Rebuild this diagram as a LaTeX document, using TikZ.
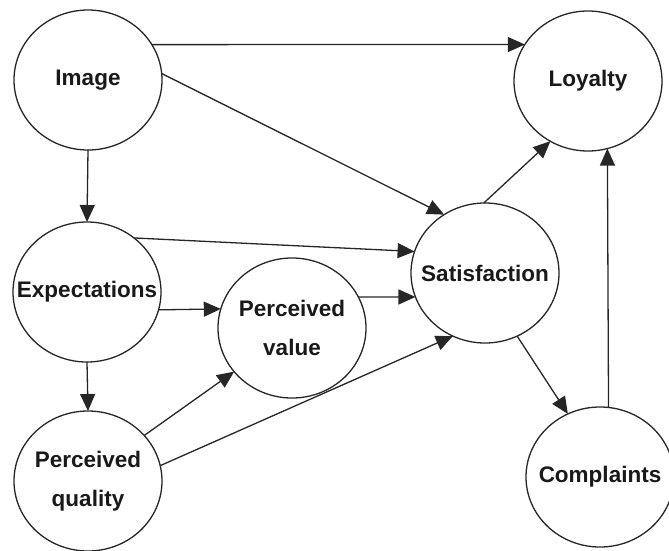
\documentclass[tikz,border=0pt]{standalone}
\usepackage{fontspec}
\setmainfont{Liberation Sans}
\usetikzlibrary{arrows.meta,shapes.geometric}
\begin{document}
\begin{tikzpicture}[x=1pt,y=-1pt,
  st/.style={ellipse,draw=black!85,line width=1.3pt,minimum width=148pt,minimum height=140pt,inner sep=0pt,outer sep=0pt},
  tx/.style={font=\bfseries\fontsize{22.5}{39}\selectfont,align=center,text=black!90,inner sep=0pt},
  arr/.style={draw=black!85,line width=1.3pt,-{Triangle[length=17pt,width=15pt]}}]
\useasboundingbox (0,0) rectangle (669,550);
\node[st,label={[tx]center:Image}] (img) at (88,80) {};
\node[st,label={[tx]center:Loyalty}] (loy) at (588,81) {};
\node[st,label={[tx]center:Expectations}] (exp) at (87,292) {};
\node[st,label={[tx]center:{Perceived\\value}}] (pv) at (292,328) {};
\node[st,label={[tx]center:Satisfaction}] (sat) at (485,273) {};
\node[st,label={[tx]center:{Perceived\\quality}}] (pq) at (88,481) {};
\node[st,label={[tx]center:Complaints}] (com) at (600,477) {};
\draw[arr] (img.29) -- (loy.150.5);
\draw[arr] (img.5.5) -- (sat.125);
\draw[arr] (img.270) -- (exp.90);
\draw[arr] (exp.49.6) -- (sat.163.7);
\draw[arr] (exp.-14.1) -- (pv.165.9);
\draw[arr] (pv.25.1) -- (sat.199);
\draw[arr] (pq.39.9) -- (pv.217.3);
\draw[arr] (pq.12.2) -- (sat.243.8);
\draw[arr] (exp.270) -- (pq.90);
\draw[arr] (sat.91.6) -- (loy.238.5);
\draw[arr] (sat.297.3) -- (com.117.3);
\draw[arr] (com.83.4) -- (loy.286.5);
\end{tikzpicture}
\end{document}
